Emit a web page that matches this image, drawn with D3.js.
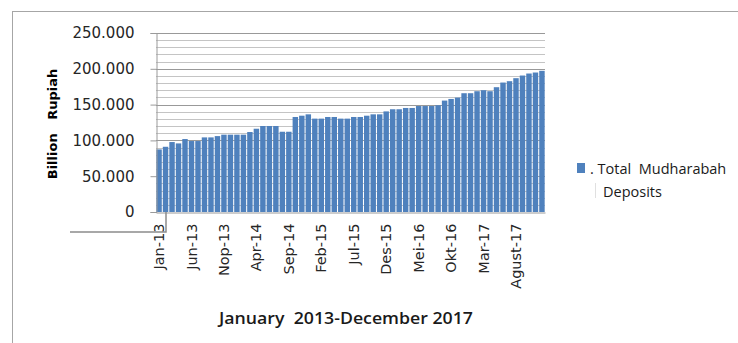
<!DOCTYPE html>
<html>
<head>
<meta charset="utf-8">
<script src="https://cdn.jsdelivr.net/npm/d3@7"></script>
<style>
  body { margin: 0; background: #fff; }
  svg { display: block; }
</style>
</head>
<body>
<div id="vis"></div>
<script>
// monthly data, Jan 2013 - Dec 2017 (billion rupiah)
var categories = [
  "Jan-13","Feb-13","Mar-13","Apr-13","Mei-13","Jun-13","Jul-13","Agust-13","Sep-13","Okt-13","Nop-13","Des-13",
  "Jan-14","Feb-14","Mar-14","Apr-14","Mei-14","Jun-14","Jul-14","Agust-14","Sep-14","Okt-14","Nop-14","Des-14",
  "Jan-15","Feb-15","Mar-15","Apr-15","Mei-15","Jun-15","Jul-15","Agust-15","Sep-15","Okt-15","Nop-15","Des-15",
  "Jan-16","Feb-16","Mar-16","Apr-16","Mei-16","Jun-16","Jul-16","Agust-16","Sep-16","Okt-16","Nop-16","Des-16",
  "Jan-17","Feb-17","Mar-17","Apr-17","Mei-17","Jun-17","Jul-17","Agust-17","Sep-17","Okt-17","Nop-17","Des-17"
];

var deposits = [
  87400, 91100, 97700, 95800, 101900, 99100, 99100, 104200, 104200, 106000, 108000, 108000,
  108000, 108000, 111700, 116300, 120100, 120100, 120100, 112100, 112100, 132700, 134500, 136400,
  130400, 130400, 132700, 132700, 130400, 130400, 132700, 132700, 134500, 136400, 136400, 140500,
  143500, 143500, 145300, 145300, 148000, 148000, 148000, 149100, 155600, 157900, 159800, 165900,
  165900, 168700, 170100, 168700, 174300, 180800, 182700, 186900, 190600, 193400, 194800, 197200
];

var xTickLabels = ["Jan-13","Jun-13","Nop-13","Apr-14","Sep-14","Feb-15","Jul-15","Des-15","Mei-16","Okt-16","Mar-17","Agust-17"];
var yTicks = [0, 50000, 100000, 150000, 200000, 250000];
var seriesName = ["Total  Mudharabah", "Deposits"];

var w = 738, h = 343;
var plotLeft = 156, plotRight = 545, plotTop = 33, plotBottom = 212;

var idLocale = d3.formatLocale({decimal: ",", thousands: ".", grouping: [3], currency: ["Rp", ""]});
var fmt = idLocale.format(",");

var svg = d3.select("#vis").append("svg")
  .attr("width", w)
  .attr("height", h);

// outer frame
svg.append("rect")
  .attr("x", 12.5).attr("y", 11.5)
  .attr("width", w).attr("height", h)
  .attr("fill", "none")
  .attr("stroke", "#a6a6a6");

var x = d3.scaleBand()
  .domain(categories)
  .range([plotLeft, plotRight])
  .paddingInner(0.16)
  .paddingOuter(0.05);

var y = d3.scaleLinear()
  .domain([0, 250000])
  .range([plotBottom, plotTop]);

// gridlines, minor every 10.000, major every 50.000
var minor = d3.range(10000, 250001, 10000).filter(function(v){ return v % 50000 != 0; });
svg.append("g").selectAll("line")
  .data(minor)
  .enter().append("line")
  .attr("x1", plotLeft).attr("x2", plotRight)
  .attr("y1", function(d){ return Math.round(y(d)) + 0.5; })
  .attr("y2", function(d){ return Math.round(y(d)) + 0.5; })
  .attr("stroke", "#c4c4c4");

svg.append("g").selectAll("line")
  .data(yTicks.slice(1))
  .enter().append("line")
  .attr("x1", plotLeft).attr("x2", plotRight)
  .attr("y1", function(d){ return Math.round(y(d)) + 0.5; })
  .attr("y2", function(d){ return Math.round(y(d)) + 0.5; })
  .attr("stroke", "#999");

// bars
svg.append("g").selectAll("rect")
  .data(deposits)
  .enter().append("rect")
  .attr("x", function(d, i){ return x(categories[i]); })
  .attr("y", function(d){ return y(d); })
  .attr("width", x.bandwidth())
  .attr("height", function(d){ return plotBottom - y(d); })
  .attr("fill", "#4f81bd");

// y axis
var yAxis = svg.append("g")
  .attr("transform", "translate(" + (plotLeft + 0.5) + ",0)")
  .call(d3.axisLeft(y).tickValues(yTicks).tickFormat(fmt).tickSize(6).tickPadding(16));
yAxis.select(".domain").attr("stroke", "#9a9a9a");
yAxis.selectAll(".tick line").attr("stroke", "#9a9a9a");
yAxis.selectAll("text")
  .attr("fill", "#262626")
  .style("font-family", "DejaVu Sans")
  .style("font-size", "15px");

// x axis
var xAxis = svg.append("g")
  .attr("transform", "translate(0," + (plotBottom + 0.5) + ")")
  .call(d3.axisBottom(x).tickValues(xTickLabels).tickSize(0));
xAxis.select(".domain").attr("stroke", "#9a9a9a");
xAxis.selectAll("text")
  .attr("transform", "rotate(-90)")
  .attr("y", 0)
  .attr("x", -11)
  .attr("dy", "0.35em")
  .attr("text-anchor", "end")
  .attr("fill", "#262626")
  .style("font-family", "DejaVu Sans")
  .style("font-size", "14.5px");

// stray connector line under the axis (it is in the original)
svg.append("path")
  .attr("d", "M166," + plotBottom + "V232H70")
  .attr("fill", "none")
  .attr("stroke", "#8c8c8c")
  .attr("stroke-width", 1.5);

// axis titles
svg.append("text")
  .attr("transform", "translate(57,124) rotate(-90)")
  .attr("text-anchor", "middle")
  .style("font-family", "DejaVu Sans")
  .style("font-weight", "bold")
  .style("font-size", "13px")
  .style("white-space", "pre")
  .attr("fill", "#000")
  .text("Billion   Rupiah");

svg.append("text")
  .attr("x", 219)
  .attr("y", 324)
  .attr("textLength", 254)
  .attr("lengthAdjust", "spacingAndGlyphs")
  .style("font-family", "Open Sans")
  .style("font-weight", "600")
  .style("font-size", "16px")
  .style("white-space", "pre")
  .attr("fill", "#1a1a1a")
  .text("January  2013-December 2017");

// legend
var legend = svg.append("g");
legend.append("rect")
  .attr("x", 577).attr("y", 163)
  .attr("width", 8).attr("height", 10)
  .attr("fill", "#4f81bd");
legend.append("text")
  .attr("x", 590).attr("y", 174)
  .style("font-family", "Open Sans")
  .style("font-size", "14.5px")
  .style("white-space", "pre")
  .attr("fill", "#1a1a1a")
  .text(". " + seriesName[0]);
legend.append("line")
  .attr("x1", 595.5).attr("x2", 595.5)
  .attr("y1", 183).attr("y2", 198)
  .attr("stroke", "#e0e0e0");
legend.append("text")
  .attr("x", 603).attr("y", 197)
  .style("font-family", "Open Sans")
  .style("font-size", "14.5px")
  .attr("fill", "#1a1a1a")
  .text(seriesName[1]);
</script>
</body>
</html>
